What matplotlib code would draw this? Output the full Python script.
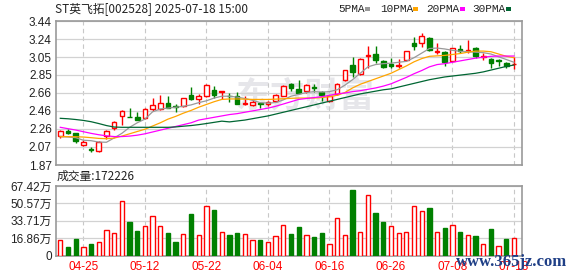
import matplotlib
matplotlib.use("Agg")
import matplotlib.pyplot as plt
from matplotlib.patches import Rectangle
import numpy as np

W, H = 578, 276

# ---------------- data ----------------
title = "ST英飞拓[002528] 2025-07-18 15:00"
vol_title = "成交量:172226"
ma_names = ["5PMA", "10PMA", "20PMA", "30PMA"]

dates = ["04-25", "05-12", "05-22", "06-04", "06-16", "06-26", "07-08", "07-18"]
date_idx = [3, 11, 19, 27, 35, 43, 51, 59]

opens = [2.183, 2.244, 2.215, 2.088, 2.041, 2.023, 2.183, 2.270, 2.401, 2.397,
         2.393, 2.379, 2.484, 2.484, 2.546, 2.513, 2.510, 2.633, 2.586, 2.619,
         2.688, 2.666, 2.626, 2.619, 2.539, 2.524, 2.546, 2.531, 2.571, 2.626,
         2.753, 2.699, 2.680, 2.717, 2.670, 2.568, 2.640, 2.793, 2.960, 2.859,
         3.055, 3.077, 3.000, 2.968, 2.949, 3.011, 3.197, 3.197, 3.251, 3.102,
         3.098, 3.004, 3.138, 3.117, 3.142, 3.051, 3.029, 3.011, 2.982, 2.968]
highs = [2.250, 2.259, 2.222, 2.146, 2.063, 2.132, 2.252, 2.350, 2.470, 2.488,
         2.444, 2.488, 2.597, 2.633, 2.622, 2.531, 2.604, 2.724, 2.648, 2.750,
         2.735, 2.680, 2.651, 2.670, 2.622, 2.575, 2.553, 2.568, 2.648, 2.742,
         2.760, 2.793, 2.753, 2.750, 2.677, 2.633, 2.764, 2.909, 3.051, 3.033,
         3.171, 3.171, 3.015, 3.040, 3.022, 3.117, 3.262, 3.313, 3.266, 3.200,
         3.113, 3.149, 3.175, 3.233, 3.153, 3.095, 3.040, 3.022, 2.993, 3.051]
lows = [2.160, 2.204, 2.114, 2.081, 2.008, 2.016, 2.154, 2.248, 2.306, 2.390,
        2.357, 2.375, 2.462, 2.470, 2.488, 2.452, 2.502, 2.575, 2.531, 2.611,
        2.604, 2.590, 2.553, 2.531, 2.524, 2.513, 2.495, 2.517, 2.561, 2.619,
        2.677, 2.640, 2.655, 2.662, 2.568, 2.561, 2.633, 2.786, 2.833, 2.851,
        2.924, 2.978, 2.924, 2.931, 2.924, 3.004, 3.124, 3.153, 3.113, 3.077,
        2.953, 2.997, 3.095, 3.088, 3.040, 3.018, 2.924, 2.953, 2.924, 2.913]
closes = [2.241, 2.222, 2.132, 2.124, 2.034, 2.124, 2.237, 2.343, 2.455, 2.390,
          2.364, 2.477, 2.524, 2.542, 2.495, 2.499, 2.597, 2.590, 2.622, 2.742,
          2.633, 2.673, 2.619, 2.539, 2.550, 2.557, 2.539, 2.561, 2.633, 2.735,
          2.713, 2.655, 2.742, 2.710, 2.633, 2.626, 2.757, 2.902, 2.888, 3.026,
          3.066, 3.018, 2.942, 2.953, 2.960, 3.109, 3.171, 3.273, 3.124, 3.113,
          2.997, 3.142, 3.117, 3.128, 3.062, 3.062, 2.986, 3.004, 2.949, 2.971]

# volume in units of 10k (万)
volumes = [14.7, 8.2, 16.0, 7.9, 11.1, 12.8, 24.5, 21.9, 53.0, 32.7,
           23.9, 28.5, 38.3, 28.5, 21.9, 13.1, 20.6, 40.6, 19.6, 48.1,
           44.5, 22.6, 20.0, 21.9, 20.6, 14.7, 15.1, 13.1, 18.7, 29.5,
           20.9, 27.8, 20.0, 18.0, 21.9, 11.1, 36.3, 20.0, 63.2, 22.9,
           58.6, 41.6, 32.7, 28.8, 21.9, 22.9, 48.4, 43.5, 46.5, 22.9,
           26.8, 29.8, 22.9, 20.0, 19.0, 11.1, 25.9, 9.2, 16.0, 17.22]
vol_up = [1, 0, 0, 1, 0, 1, 1, 1, 1, 0,
          0, 1, 1, 1, 0, 0, 1, 0, 1, 1,
          0, 1, 0, 0, 1, 1, 0, 1, 1, 1,
          0, 0, 1, 0, 0, 1, 1, 1, 0, 1,
          1, 0, 0, 1, 1, 1, 1, 1, 0, 1,
          0, 1, 0, 1, 0, 1, 0, 1, 0, 1]

ma5 = [2.180, 2.175, 2.168, 2.140, 2.135, 2.120, 2.118, 2.165, 2.215, 2.280,
       2.330, 2.370, 2.450, 2.480, 2.490, 2.500, 2.510, 2.525, 2.550, 2.570,
       2.600, 2.620, 2.620, 2.610, 2.595, 2.575, 2.550, 2.545, 2.550, 2.580,
       2.620, 2.640, 2.660, 2.670, 2.665, 2.670, 2.690, 2.740, 2.800, 2.870,
       2.940, 2.965, 2.975, 2.980, 2.990, 3.000, 3.040, 3.090, 3.140, 3.145,
       3.135, 3.120, 3.110, 3.105, 3.100, 3.095, 3.080, 3.050, 3.020, 2.990]
ma10 = [2.179, 2.179, 2.178, 2.175, 2.168, 2.160, 2.157, 2.163, 2.185, 2.210,
        2.235, 2.260, 2.295, 2.330, 2.370, 2.400, 2.435, 2.465, 2.500, 2.530,
        2.560, 2.585, 2.590, 2.590, 2.588, 2.585, 2.585, 2.585, 2.588, 2.592,
        2.597, 2.600, 2.600, 2.600, 2.605, 2.615, 2.630, 2.660, 2.710, 2.750,
        2.780, 2.810, 2.840, 2.870, 2.910, 2.950, 2.995, 3.030, 3.055, 3.060,
        3.065, 3.075, 3.085, 3.100, 3.112, 3.112, 3.105, 3.080, 3.055, 3.040]
ma20 = [2.281, 2.266, 2.251, 2.233, 2.215, 2.200, 2.188, 2.180, 2.180, 2.185,
        2.195, 2.210, 2.230, 2.250, 2.270, 2.290, 2.310, 2.330, 2.360, 2.375,
        2.390, 2.405, 2.420, 2.430, 2.445, 2.460, 2.475, 2.490, 2.510, 2.535,
        2.560, 2.585, 2.595, 2.605, 2.615, 2.630, 2.645, 2.655, 2.670, 2.680,
        2.695, 2.710, 2.730, 2.755, 2.790, 2.825, 2.865, 2.900, 2.940, 2.965,
        2.975, 2.990, 3.005, 3.020, 3.035, 3.045, 3.055, 3.058, 3.058, 3.058]
ma30 = [2.379, 2.374, 2.366, 2.356, 2.342, 2.322, 2.300, 2.284, 2.281, 2.281,
        2.281, 2.281, 2.281, 2.281, 2.281, 2.285, 2.293, 2.300, 2.310, 2.322,
        2.335, 2.348, 2.340, 2.350, 2.360, 2.375, 2.390, 2.405, 2.425, 2.445,
        2.465, 2.485, 2.505, 2.525, 2.545, 2.565, 2.585, 2.605, 2.625, 2.645,
        2.660, 2.675, 2.690, 2.700, 2.720, 2.740, 2.760, 2.780, 2.800, 2.815,
        2.830, 2.840, 2.850, 2.860, 2.870, 2.885, 2.905, 2.925, 2.945, 2.960]

price_min, price_max = 1.87, 3.44
price_labels = ["1.87", "2.07", "2.26", "2.46", "2.66", "2.85", "3.05", "3.24", "3.44"]
vol_max = 67.42
vol_labels = ["0", "16.86万", "33.71万", "50.57万", "67.42万"]

# ---------------- style ----------------
RED = "#ff0000"
GREEN = "#008000"
MA_COLORS = ["#999999", "#ffa500", "#ff00ff", "#006633"]
GRID = "#d2d2d2"
SPINE = "#999999"
TXT = "#222222"

plt.rcParams["font.family"] = ["Liberation Sans", "Noto Sans CJK SC"]

fig = plt.figure(figsize=(W / 100, H / 100), dpi=100)
fig.patch.set_facecolor("white")


def rect(x0, y0, x1, y1):
    return [x0 / W, 1 - y1 / H, (x1 - x0) / W, (y1 - y0) / H]


ax = fig.add_axes(rect(56, 21, 522, 165))
axv = fig.add_axes(rect(56, 186, 522, 255.5))

n = len(closes)
x = np.arange(n)
xlim = (-0.56, 60.04)

for a in (ax, axv):
    a.set_xlim(*xlim)
    a.set_axisbelow(True)
    for s in a.spines.values():
        s.set_color(SPINE)
        s.set_linewidth(1.2)
    a.set_xticks(date_idx)
    a.grid(axis="x", color="#c8c8c8", lw=0.8, ls=(0, (4, 3)))
    a.grid(axis="y", color=GRID, lw=0.9, ls="-")
    a.tick_params(axis="both", length=0)

# price panel
ax.set_ylim(price_min, price_max)
ax.set_yticks(np.linspace(price_min, price_max, len(price_labels)))
ax.set_yticklabels(price_labels)
ax.tick_params(axis="y", pad=3, labelsize=8.5, labelcolor=TXT)
ax.set_xticklabels([])

# watermark
ax.text(305 / W, 1 - 96 / H, "东方财富", transform=fig.transFigure, ha="center",
        va="center", fontsize=25, fontweight="bold", color="#e6e6ea",
        family=["Noto Sans CJK SC"], zorder=0.2)

o = np.array(opens); c = np.array(closes)
hi = np.array(highs); lo = np.array(lows)
up = c >= o
cols = np.where(up, RED, GREEN)
ax.vlines(x, lo, hi, colors=cols, lw=1.0, zorder=2)
bw = 0.6
body_h = np.where(np.abs(c - o) < 0.002, 0.002, c - o)
ax.bar(x, body_h, bottom=o, width=bw,
       color=np.where(up, "white", GREEN), edgecolor=cols, linewidth=1.0, zorder=3)

for vals, col in zip([ma5, ma10, ma20, ma30], MA_COLORS):
    ax.plot(x, vals, color=col, lw=0.9, zorder=4)

# volume panel
axv.set_ylim(0, vol_max)
axv.set_yticks(np.linspace(0, vol_max, len(vol_labels)))
axv.set_yticklabels(vol_labels)
axv.tick_params(axis="y", pad=3, labelsize=8.5, labelcolor=TXT)
axv.set_xticklabels(dates)
axv.tick_params(axis="x", pad=4, labelsize=8.5, labelcolor=RED)
vu = np.array(vol_up).astype(bool)
vcol = np.where(vu, RED, GREEN)
axv.bar(x, volumes, width=0.56, color=np.where(vu, "white", GREEN),
        edgecolor=vcol, linewidth=1.0, zorder=3)

# titles
fig.text(55 / W, 1 - 9 / H, title, ha="left", va="center", fontsize=8.5,
         color=TXT, family=["Noto Sans CJK SC", "DejaVu Sans"])
fig.text(57 / W, 1 - 176.5 / H, vol_title, ha="left", va="center", fontsize=8.5,
         color=TXT, family=["Noto Sans CJK SC", "DejaVu Sans"])

# legend
leg_text_x = [338, 380, 426, 472]
leg_mark_x = [365, 413, 460, 506]
for name, tx, mx, col in zip(ma_names, leg_text_x, leg_mark_x, MA_COLORS):
    fig.text(tx / W, 1 - 8.5 / H, name, ha="left", va="center", fontsize=8,
             color=TXT, family=["Liberation Mono"])
    fig.patches.append(Rectangle((mx / W, 1 - 10.5 / H), 5 / W, 4 / H,
                                 transform=fig.transFigure, facecolor=col,
                                 edgecolor="none"))

# site watermark
fig.text(512 / W, 1 - 262 / H, "www.365jz.com", ha="center", va="center",
         fontsize=12, fontweight="bold", color="#1f3f86",
         family=["Liberation Serif"], zorder=10)

fig.savefig("out.png", dpi=100, facecolor="white")
